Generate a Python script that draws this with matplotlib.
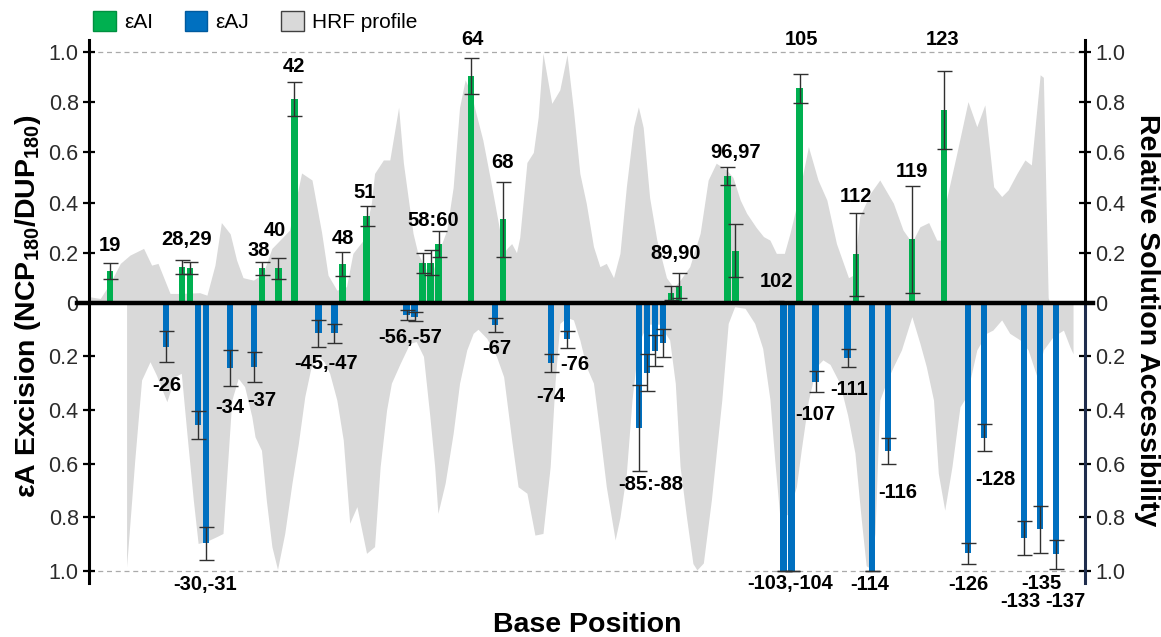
import numpy as np
import matplotlib.pyplot as plt
from matplotlib.patches import Patch

plt.rcParams['font.family'] = ['Liberation Sans', 'DejaVu Sans']
plt.rcParams['mathtext.fontset'] = 'custom'
plt.rcParams['mathtext.rm'] = 'Liberation Sans'
plt.rcParams['mathtext.bf'] = 'Liberation Sans:bold'

# eAI excision (top strand)
green_pos = [19, 28, 29, 38, 40, 42, 48, 51, 58, 59, 60, 64, 68, 89, 90,
             96, 97, 102, 105, 112, 119, 123]
green_val = [0.125, 0.142, 0.14, 0.137, 0.137, 0.813, 0.155, 0.346, 0.159,
             0.159, 0.233, 0.905, 0.333, 0.04, 0.067, 0.506, 0.208, 0.005,
             0.856, 0.194, 0.253, 0.77]
green_err = [0.032, 0.027, 0.024, 0.027, 0.043, 0.067, 0.047, 0.04, 0.04,
             0.05, 0.052, 0.072, 0.15, 0.028, 0.05, 0.036, 0.105, 0.003,
             0.058, 0.166, 0.215, 0.156]

# eAJ excision (bottom strand), plotted at |position|
blue_pos = [26, 30, 31, 34, 37, 45, 47, 56, 57, 67, 74, 76, 85, 86, 87, 88,
            103, 104, 107, 111, 114, 116, 126, 128, 133, 135, 137]
blue_val = [0.164, 0.456, 0.897, 0.242, 0.238, 0.114, 0.114, 0.046, 0.052,
            0.083, 0.226, 0.137, 0.468, 0.261, 0.179, 0.151, 1.0, 1.0, 0.294,
            0.207, 1.0, 0.553, 0.934, 0.503, 0.876, 0.845, 0.938]
blue_err = [0.058, 0.053, 0.062, 0.067, 0.056, 0.05, 0.036, 0.018, 0.017,
            0.025, 0.033, 0.032, 0.16, 0.068, 0.058, 0.052, 0.0, 0.0, 0.038,
            0.034, 0.0, 0.047, 0.039, 0.05, 0.063, 0.087, 0.053]

# HRF profile, top strand
hrf_top_pos = [16.4, 17.8, 19.0, 20.3, 21.5, 23.2, 24.2, 25.0, 26.5, 27.7,
               30.2, 31.1, 32.1, 32.9, 34.0, 34.8, 35.6, 36.9, 38.1, 39.2,
               40.2, 41.4, 42.9, 44.2, 45.4, 46.2, 47.3, 48.5, 49.3, 50.6,
               51.6, 52.0, 53.1, 53.9, 55.0, 55.6, 56.8, 57.4, 58.5, 59.2,
               60.2, 61.0, 61.8, 62.6, 63.3, 64.0, 64.7, 65.5, 66.4, 67.2,
               68.1, 68.6, 69.1, 69.7, 70.1, 71.0, 71.8, 72.4, 73.0, 74.1,
               75.1, 76.0, 76.8, 77.6, 78.4, 79.3, 80.1, 80.9, 81.8, 82.6,
               83.4, 84.3, 84.9, 85.5, 86.3, 87.2, 88.4, 89.3, 90.1, 91.3,
               92.6, 93.6, 94.6, 95.9, 96.7, 97.6, 98.4, 99.6, 100.5, 101.3,
               102.1, 103.1, 103.8, 104.6, 106.1, 107.3, 108.4, 109.6, 111.1,
               111.7, 112.5, 113.8, 115.0, 116.7, 117.9, 119.0, 120.0, 121.1,
               122.1, 122.7, 123.3, 124.6, 126.0, 127.1, 128.1, 129.2, 130.2,
               131.0, 132.1, 133.1, 133.9, 135.0, 135.4, 136.0, 136.2]
hrf_top_val = [0.024, 0.017, 0.077, 0.157, 0.19, 0.217, 0.15, 0.157, 0.037,
               0.037, 0.04, 0.03, 0.15, 0.32, 0.275, 0.17, 0.10, 0.09, 0.117,
               0.217, 0.25, 0.29, 0.518, 0.49, 0.28, 0.11, 0.05, 0.064, 0.197,
               0.25, 0.397, 0.516, 0.57, 0.57, 0.78, 0.557, 0.277, 0.197, 0.13,
               0.12, 0.22, 0.29, 0.46, 0.78, 0.89, 0.84, 0.75, 0.65, 0.5, 0.36,
               0.2, 0.22, 0.236, 0.2, 0.26, 0.56, 0.6, 0.74, 0.996, 0.796,
               0.85, 0.99, 0.77, 0.516, 0.397, 0.224, 0.144, 0.157, 0.1, 0.197,
               0.463, 0.703, 0.782, 0.70, 0.42, 0.25, 0.1, 0.06, 0.09, 0.144,
               0.277, 0.49, 0.557, 0.53, 0.5, 0.41, 0.357, 0.3, 0.264, 0.25,
               0.197, 0.197, 0.277, 0.384, 0.623, 0.49, 0.41, 0.236, 0.1, 0.11,
               0.344, 0.436, 0.49, 0.397, 0.29, 0.24, 0.303, 0.32, 0.25, 0.25,
               0.41, 0.596, 0.803, 0.703, 0.79, 0.463, 0.424, 0.45, 0.516,
               0.57, 0.55, 0.91, 0.90, 0.02, 0.0]

# HRF profile, bottom strand
hrf_bot_pos = [21.08, 22.1, 22.95, 24.0, 24.8, 26.1, 27.1, 27.9, 28.6, 29.4,
               30.0, 31.0, 32.3, 33.1, 34.2, 35.0, 35.8, 36.7, 37.1, 37.9,
               38.5, 39.2, 39.9, 40.8, 41.7, 42.5, 43.3, 44.1, 45.0, 45.7,
               46.4, 47.3, 48.1, 48.9, 49.8, 51.0, 52.0, 52.7, 53.5, 54.1,
               55.2, 56.4, 57.2, 58.1, 58.9, 59.5, 59.9, 60.8, 61.8, 62.6,
               63.5, 64.3, 64.9, 66.0, 67.2, 68.1, 69.1, 69.9, 71.0, 72.0,
               73.0, 73.9, 74.5, 75.1, 76.0, 76.8, 77.6, 78.4, 79.3, 80.1,
               80.9, 82.0, 82.6, 83.4, 84.1, 84.9, 86.0, 87.5, 88.8, 89.5,
               90.1, 90.9, 91.7, 92.2, 93.0, 94.0, 95.3, 96.1, 96.9, 98.2,
               99.4, 100.4, 101.3, 101.9, 102.5, 103.5, 104.6, 105.2, 106.1,
               107.1, 107.9, 108.8, 110.0, 111.0, 111.9, 112.7, 113.3, 113.8,
               114.4, 115.0, 115.9, 116.7, 117.7, 119.0, 120.0, 120.8, 121.7,
               122.3, 123.1, 124.0, 125.0, 125.8, 127.1, 128.3, 129.1, 130.2,
               131.2, 132.5, 133.5, 134.6, 135.4, 136.6, 137.9, 138.7, 139.1]
hrf_bot_val = [0.984, 0.586, 0.288, 0.22, 0.27, 0.369, 0.276, 0.263, 0.487,
               0.735, 0.897, 0.89, 0.872, 0.86, 0.363, 0.282, 0.313, 0.425,
               0.5, 0.55, 0.735, 0.909, 0.994, 0.86, 0.673, 0.524, 0.35, 0.238,
               0.2, 0.22, 0.263, 0.363, 0.512, 0.822, 0.76, 0.934, 0.909,
               0.611, 0.40, 0.30, 0.226, 0.151, 0.145, 0.2, 0.425, 0.611,
               0.785, 0.673, 0.487, 0.30, 0.176, 0.114, 0.099, 0.133, 0.2,
               0.276, 0.512, 0.686, 0.71, 0.866, 0.86, 0.611, 0.30, 0.077,
               0.055, 0.064, 0.139, 0.238, 0.30, 0.487, 0.686, 0.884, 0.8,
               0.636, 0.363, 0.151, 0.08, 0.08, 0.139, 0.30, 0.611, 0.8, 0.972,
               0.996, 0.97, 0.735, 0.363, 0.077, 0.015, 0.021, 0.077, 0.17,
               0.36, 0.586, 0.785, 0.79, 0.686, 0.55, 0.363, 0.238, 0.213,
               0.23, 0.30, 0.42, 0.56, 0.81, 0.98, 0.99, 0.86, 0.363, 0.29,
               0.238, 0.176, 0.052, 0.151, 0.238, 0.363, 0.636, 0.773, 0.611,
               0.388, 0.35, 0.176, 0.114, 0.102, 0.064, 0.114, 0.139, 0.176,
               0.276, 0.176, 0.127, 0.102, 0.164, 0.19]

# bar annotations: text, x, y (data units)
top_labels = [("19", 19, 0.23), ("28,29", 28.6, 0.253), ("38", 37.6, 0.21),
              ("40", 39.6, 0.29), ("42", 41.9, 0.943), ("48", 48.1, 0.257),
              ("51", 50.8, 0.44), ("58:60", 59.3, 0.33), ("64", 64.2, 1.052),
              ("68", 68.0, 0.56), ("89,90", 89.5, 0.195), ("96,97", 97.05, 0.6),
              ("102", 102.1, 0.084), ("105", 105.2, 1.052), ("112", 112.0, 0.423),
              ("119", 119.0, 0.523), ("123", 122.8, 1.052)]
bot_labels = [("-26", 26.1, 0.307), ("-30,-31", 30.9, 1.052), ("-34", 33.9, 0.39),
              ("-37", 38.0, 0.363), ("-45,-47", 46.0, 0.226), ("-56,-57", 56.4, 0.13),
              ("-67", 67.2, 0.17), ("-74", 74.0, 0.348), ("-76", 77.0, 0.232),
              ("-85:-88", 86.5, 0.677), ("-103,-104", 103.8, 1.046),
              ("-107", 106.9, 0.416), ("-111", 111.2, 0.323), ("-114", 113.8, 1.05),
              ("-116", 117.3, 0.708), ("-126", 126.1, 1.05), ("-128", 129.4, 0.658),
              ("-135", 135.2, 1.046), ("-133", 132.5, 1.114), ("-137", 138.1, 1.114)]

green = '#00b050'
blue = '#0070c0'
grey = '#d9d9d9'

fig = plt.figure(figsize=(11.61, 6.37), dpi=100)
ax_t = fig.add_axes([0.0767, 0.5248, 0.8579, 0.4128])
ax_b = fig.add_axes([0.0767, 0.0846, 0.8579, 0.4402])

for ax in (ax_t, ax_b):
    ax.set_facecolor('none')
    ax.set_xlim(16.4, 140.6)
    ax.set_xticks([])
    ax.spines['top'].set_visible(False)
    ax.spines['bottom'].set_visible(False)
    ax.spines['left'].set_linewidth(2.2)
    ax.spines['right'].set_linewidth(2.2)
    ax.tick_params(axis='y', left=True, right=True, labelleft=True, labelright=True,
                   direction='inout', length=9, width=1.6, labelsize=15.5,
                   labelcolor='#2b2b2b', pad=3)
    ax.axhline(1.0, color='#aaaaaa', lw=0.9, ls=(0, (4, 3)), zorder=0)

ax_b.spines['right'].set_color('#1f2d4d')
ax_b.tick_params(axis='y', which='both', colors='#1f2d4d', labelcolor='#2b2b2b')
ax_b.tick_params(axis='y', left=True, color='black')

# top half
ax_t.fill_between(hrf_top_pos, hrf_top_val, 0, color=grey, lw=0, zorder=1)
ax_t.bar(green_pos, green_val, width=0.8, color=green, zorder=2)
ax_t.errorbar(green_pos, green_val, yerr=green_err, fmt='none', ecolor='#303030',
              elinewidth=1, capsize=5.4, capthick=1, zorder=3)
ax_t.set_ylim(0, 1.05)
ax_t.set_yticks([0, 0.2, 0.4, 0.6, 0.8, 1.0])
ax_t.set_yticklabels(['0', '0.2', '0.4', '0.6', '0.8', '1.0'])

# bottom half (inverted)
ax_b.fill_between(hrf_bot_pos, hrf_bot_val, 0, color=grey, lw=0, zorder=1)
ax_b.bar(blue_pos, blue_val, width=0.8, color=blue, zorder=2)
ax_b.errorbar(blue_pos, blue_val, yerr=blue_err, fmt='none', ecolor='#303030',
              elinewidth=1, capsize=5.4, capthick=1, zorder=3)
ax_b.set_ylim(1.045, 0)
ax_b.set_yticks([0.2, 0.4, 0.6, 0.8, 1.0])
ax_b.set_yticklabels(['0.2', '0.4', '0.6', '0.8', '1.0'])
ax_b.axhline(0, xmin=-0.012, xmax=1.008, color='black', lw=3.2, clip_on=False, zorder=6)

for s, x, y in top_labels:
    ax_t.text(x, y, s, ha='center', va='center', fontsize=14.5, fontweight='bold',
              clip_on=False)
for s, x, y in bot_labels:
    ax_b.text(x, y, s, ha='center', va='center', fontsize=14.5, fontweight='bold',
              clip_on=False)

fig.text(28.5 / 1161, 1 - 306 / 637,
         r'εA Excision (NCP$_{\mathbf{180}}$/DUP$_{\mathbf{180}}$)',
         rotation=90, ha='center', va='center', fontsize=20.5, fontweight='bold')
fig.text(1147 / 1161, 1 - 320 / 637, 'Relative Solution Accessibility',
         rotation=270, ha='center', va='center', fontsize=20.5, fontweight='bold')
fig.text(587 / 1161, 1 - 625 / 637, 'Base Position', ha='center', va='center',
         fontsize=20.5, fontweight='bold')

handles = [Patch(facecolor=green, edgecolor='#009040', label='εAI'),
           Patch(facecolor=blue, edgecolor='#005a9e', label='εAJ'),
           Patch(facecolor=grey, edgecolor='#404040', label='HRF profile')]
fig.legend(handles=handles, loc='upper left', bbox_to_anchor=(93 / 1161, 1 - 11 / 637),
           ncol=3, frameon=False, fontsize=15, handlelength=1.1, handleheight=1.1,
           handletextpad=0.4, columnspacing=1.5, borderaxespad=0, borderpad=0)

fig.savefig('out.png', dpi=100)
